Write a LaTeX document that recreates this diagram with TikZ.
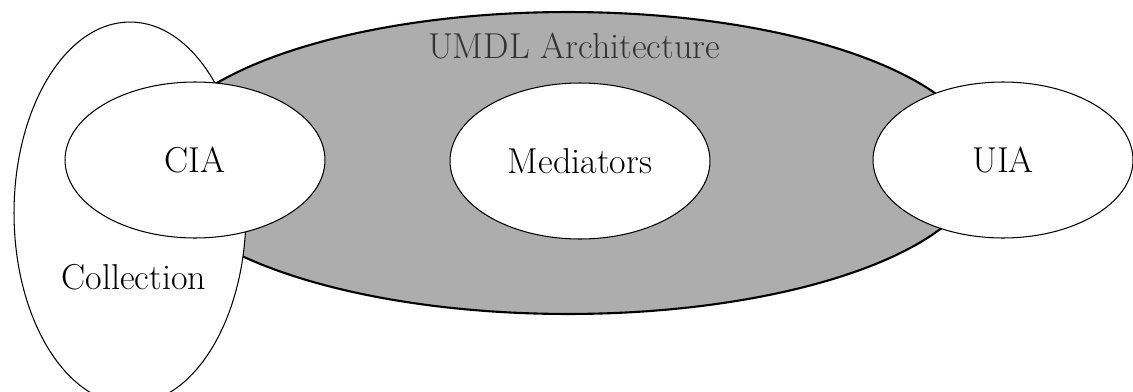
\documentclass[tikz,border=0pt]{standalone}
\usepackage{tikz}
\usetikzlibrary{positioning,shapes.geometric}
\usepackage{xcolor}

\begin{document}
\begin{tikzpicture}[
    x=0.02cm, y=-0.02cm,
    font=\fontsize{20.5}{24}\selectfont,
    umdl/.style={ellipse, draw=black, line width=1.2pt, fill=black!32, minimum width=16.56cm, minimum height=6.04cm, inner sep=0pt},
    agent/.style={ellipse, draw=black, line width=0.6pt, fill=white, minimum width=5.2cm, minimum height=3.12cm, inner sep=0pt},
    collection/.style={ellipse, draw=black, line width=0.6pt, fill=white, minimum width=4.64cm, minimum height=7.64cm, inner sep=0pt},
    headtext/.style={text=black!80, inner sep=0pt}
]
\useasboundingbox (0,0) rectangle (1133,392);

% Nodes
\node[umdl] (umdl) at (568,163) {};
\node[headtext] (head) at (574,46) {UMDL Architecture};
\node[collection] (coll) at (130,213) {};
\node (colltext) at (134,277) {Collection};
\node[agent] (cia) at (195,160) {CIA};
\node[agent] (med) at (580,161) {Mediators};
\node[agent] (uia) at (1003,160) {UIA};

\end{tikzpicture}
\end{document}
